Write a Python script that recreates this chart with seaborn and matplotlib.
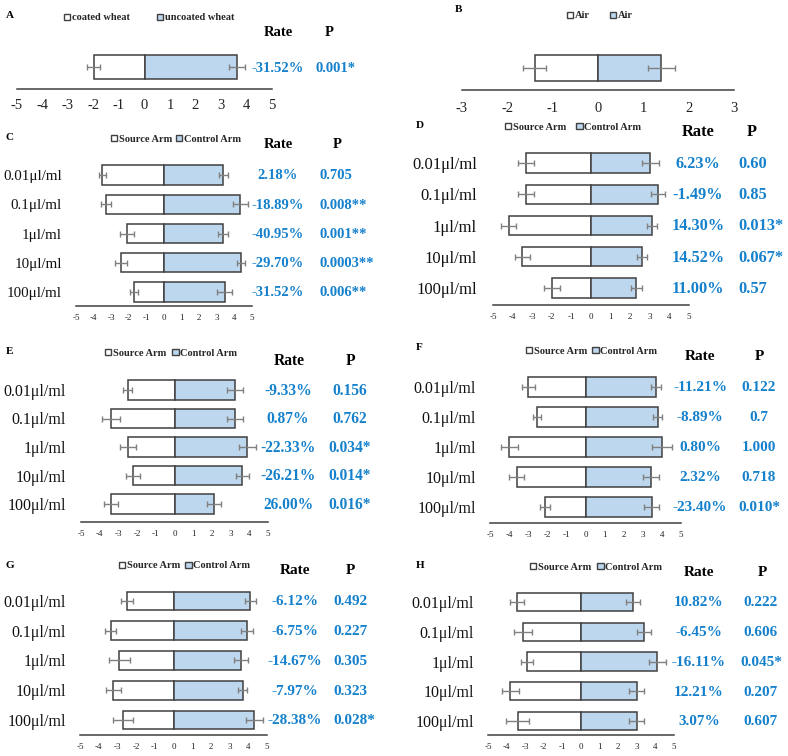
import matplotlib
matplotlib.use("Agg")
import matplotlib.pyplot as plt
import matplotlib.transforms as mtransforms
from matplotlib.patches import Patch
import seaborn as sns
import pandas as pd

sns.set_theme(style="white")
plt.rcParams["font.family"] = ["Liberation Serif", "DejaVu Serif"]
plt.rcParams["axes.unicode_minus"] = False

W, H = 788, 756
BLUE_FILL = "#bdd7ee"
EDGE = "#404040"
ERR = "#808080"
TXT_BLUE = "#1581cc"

doses = ["0.01μl/ml", "0.1μl/ml", "1μl/ml", "10μl/ml", "100μl/ml"]

# panel A: coated vs uncoated wheat
a_cats = ["wheat"]
a_source = [-2.0]
a_source_err = [0.26]
a_control = [3.62]
a_control_err = [0.31]
a_rate = ["-31.52%"]
a_p = ["0.001*"]

# panel B: air vs air
b_cats = ["air"]
b_source = [-1.4]
b_source_err = [0.26]
b_control = [1.4]
b_control_err = [0.3]

# panels C-H: source arm (negative) vs control arm
c_source = [-3.5, -3.3, -2.1, -2.45, -1.7]
c_source_err = [0.2, 0.28, 0.4, 0.35, 0.25]
c_control = [3.38, 4.33, 3.33, 4.37, 3.44]
c_control_err = [0.28, 0.42, 0.28, 0.25, 0.45]
c_rate = ["2.18%", "-18.89%", "-40.95%", "-29.70%", "-31.52%"]
c_p = ["0.705", "0.008**", "0.001**", "0.0003**", "0.006**"]

d_source = [-3.3, -3.3, -4.2, -3.5, -2.0]
d_source_err = [0.4, 0.4, 0.37, 0.38, 0.42]
d_control = [3.03, 3.42, 3.13, 2.61, 2.32]
d_control_err = [0.42, 0.38, 0.25, 0.27, 0.3]
d_rate = ["6.23%", "-1.49%", "14.30%", "14.52%", "11.00%"]
d_p = ["0.60", "0.85", "0.013*", "0.067*", "0.57"]

e_source = [-2.5, -3.4, -2.5, -2.23, -3.4]
e_source_err = [0.24, 0.5, 0.44, 0.39, 0.36]
e_control = [3.22, 3.22, 3.9, 3.63, 2.1]
e_control_err = [0.43, 0.43, 0.44, 0.36, 0.36]
e_rate = ["-9.33%", "0.87%", "-22.33%", "-26.21%", "26.00%"]
e_p = ["0.156", "0.762", "0.034*", "0.014*", "0.016*"]

f_source = [-3.0, -2.55, -4.0, -3.6, -2.1]
f_source_err = [0.35, 0.2, 0.44, 0.38, 0.26]
f_control = [3.69, 3.78, 4.0, 3.43, 3.46]
f_control_err = [0.25, 0.23, 0.52, 0.44, 0.39]
f_rate = ["-11.21%", "-8.89%", "0.80%", "2.32%", "-23.40%"]
f_p = ["0.122", "0.7", "1.000", "0.718", "0.010*"]

g_source = [-2.5, -3.36, -2.9, -3.21, -2.68]
g_source_err = [0.32, 0.3, 0.57, 0.39, 0.54]
g_control = [4.1, 3.93, 3.6, 3.7, 4.32]
g_control_err = [0.3, 0.31, 0.37, 0.25, 0.45]
g_rate = ["-6.12%", "-6.75%", "-14.67%", "-7.97%", "-28.38%"]
g_p = ["0.492", "0.227", "0.305", "0.323", "0.028*"]

h_source = [-3.44, -3.12, -2.9, -3.8, -3.4]
h_source_err = [0.39, 0.47, 0.34, 0.45, 0.62]
h_control = [2.79, 3.38, 4.1, 2.99, 2.99]
h_control_err = [0.39, 0.36, 0.45, 0.42, 0.42]
h_rate = ["10.82%", "-6.45%", "-16.11%", "12.21%", "3.07%"]
h_p = ["0.222", "0.606", "0.045*", "0.207", "0.607"]

fig = plt.figure(figsize=(W / 100, H / 100), dpi=100)


def fy(y):
    return 1 - y / H


def draw_panel(lay, cats, src, src_err, ctl, ctl_err, rate=None, pval=None):
    n = len(cats)
    x0, x1, axis_y = lay["x0"], lay["x1"], lay["axis_y"]
    rows = lay["rows"]
    sp = lay.get("sp") or (rows[-1] - rows[0]) / (n - 1)
    top = rows[0] - 0.7 * sp
    ax = fig.add_axes([x0 / W, fy(axis_y), (x1 - x0) / W, (axis_y - top) / H])

    df = pd.DataFrame({"cat": cats, "src": src, "ctl": ctl})
    sns.barplot(data=df, x="src", y="cat", orient="h", color="white", saturation=1,
                edgecolor=EDGE, linewidth=1.1, width=lay["bw"], ax=ax)
    sns.barplot(data=df, x="ctl", y="cat", orient="h", color=BLUE_FILL, saturation=1,
                edgecolor=EDGE, linewidth=1.1, width=lay["bw"], ax=ax)
    pos = list(range(n))
    ax.errorbar(src, pos, xerr=src_err, fmt="none", ecolor=ERR, elinewidth=1,
                capsize=2.5, capthick=1)
    ax.errorbar(ctl, pos, xerr=ctl_err, fmt="none", ecolor=ERR, elinewidth=1,
                capsize=2.5, capthick=1)

    lim = lay["lim"]
    ax.set_xlim(-lim, lim)
    ax.set_xticks(range(-lim, lim + 1))
    ax.set_ylim(n - 1 + (axis_y - rows[-1]) / sp, -0.7)
    ax.set_xlabel("")
    ax.set_ylabel("")
    for s in ["top", "right", "left"]:
        ax.spines[s].set_visible(False)
    ax.spines["bottom"].set_color(EDGE)
    ax.spines["bottom"].set_linewidth(1.1)
    ax.tick_params(axis="x", direction="in", length=4, width=1, color=EDGE,
                   labelsize=lay["tick_fs"], pad=lay["tick_pad"], colors="#222222")
    if lay.get("label_x") is not None:
        pad_pt = (x0 - lay["label_x"]) * 0.72
        ax.tick_params(axis="y", length=0, labelsize=lay["cat_fs"], pad=pad_pt,
                       colors="#111111")
    else:
        ax.set_yticks([])
    ax.grid(False)

    trans = mtransforms.blended_transform_factory(fig.transFigure, ax.transData)
    if rate is not None:
        for i in range(n):
            ax.text(lay["rate_x"] / W, i + 0.03, rate[i], transform=trans, ha="center",
                    va="center", fontsize=lay["val_fs"], fontweight="bold", color=TXT_BLUE)
            ax.text(lay["p_x"] / W, i + 0.03, pval[i], transform=trans, ha=lay["p_ha"],
                    va="center", fontsize=lay["val_fs"], fontweight="bold", color=TXT_BLUE)
        fig.text(lay["rate_hx"] / W, fy(lay["head_y"]), "Rate", ha="center", va="center",
                 fontsize=lay["val_fs"], fontweight="bold", color="black")
        fig.text(lay["p_hx"] / W, fy(lay["head_y"]), "P", ha="center", va="center",
                 fontsize=lay["val_fs"], fontweight="bold", color="black")

    fig.text(lay["tag"][0] / W, fy(lay["tag"][1]), lay["name"], ha="left", va="center",
             fontsize=8, fontweight="bold", color="black")

    handles = [Patch(facecolor="white", edgecolor=EDGE, linewidth=1),
               Patch(facecolor=BLUE_FILL, edgecolor=EDGE, linewidth=1)]
    ax.legend(handles, lay["legend"], ncol=2, frameon=False, loc="center left",
              bbox_to_anchor=(lay["leg_x"] / W, fy(lay["leg_y"])),
              bbox_transform=fig.transFigure, borderaxespad=0, borderpad=0,
              handlelength=0.6, handleheight=0.6, handletextpad=0.15,
              columnspacing=lay["colsp"], prop={"weight": "bold", "size": 7.5})
    return ax


arm_labels = ["Source Arm", "Control Arm"]

layouts = {
    "A": dict(name="A", x0=17, x1=272, axis_y=89, rows=[67], sp=40, bw=0.6, lim=5,
              tick_fs=10.5, tick_pad=7.5, label_x=None, val_fs=10.5,
              rate_x=278, p_x=315, p_ha="left", rate_hx=278, p_hx=329, head_y=32,
              tag=(6, 15), legend=["coated wheat", "uncoated wheat"], leg_x=64,
              leg_y=18, colsp=2.6),
    "B": dict(name="B", x0=462, x1=734, axis_y=90, rows=[68], sp=43, bw=0.6, lim=3,
              tick_fs=10.5, tick_pad=8.5, label_x=None, val_fs=10.5,
              tag=(455, 10), legend=["Air", "Air"], leg_x=567, leg_y=16, colsp=1.9),
    "C": dict(name="C", x0=76, x1=252, axis_y=306, rows=[175, 204, 233, 262, 292],
              bw=0.65, lim=5, tick_fs=6.5, tick_pad=5.5, label_x=62, cat_fs=10.8,
              val_fs=10.5, rate_x=278, p_x=319, p_ha="left", rate_hx=278, p_hx=337,
              head_y=144, tag=(6, 137), legend=arm_labels, leg_x=111, leg_y=139,
              colsp=0.4),
    "D": dict(name="D", x0=493, x1=689, axis_y=305, rows=[163, 196, 227, 258, 288],
              bw=0.62, lim=5, tick_fs=6.5, tick_pad=5.5, label_x=477, cat_fs=12,
              val_fs=11.8, rate_x=698, p_x=738, p_ha="left", rate_hx=698, p_hx=752,
              head_y=132, tag=(416, 126), legend=arm_labels, leg_x=505, leg_y=127,
              colsp=1.0),
    "E": dict(name="E", x0=81, x1=268, axis_y=522, rows=[390, 418, 447, 476, 504],
              bw=0.68, lim=5, tick_fs=6.5, tick_pad=5.5, label_x=66, cat_fs=11.5,
              val_fs=11.2, rate_x=288, p_x=350, p_ha="center", rate_hx=289, p_hx=350,
              head_y=361, tag=(6, 351), legend=arm_labels, leg_x=105, leg_y=353,
              colsp=0.6),
    "F": dict(name="F", x0=490, x1=681, axis_y=523, rows=[387, 418, 447, 477, 507],
              bw=0.66, lim=5, tick_fs=6.5, tick_pad=5.5, label_x=476, cat_fs=11.5,
              val_fs=11, rate_x=700, p_x=759, p_ha="center", rate_hx=700, p_hx=759,
              head_y=356, tag=(416, 347), legend=arm_labels, leg_x=526, leg_y=351,
              colsp=0.5),
    "G": dict(name="G", x0=80, x1=267, axis_y=735, rows=[601, 631, 660, 690, 720],
              bw=0.63, lim=5, tick_fs=6.5, tick_pad=5.5, label_x=66, cat_fs=11.5,
              val_fs=11, rate_x=295, p_x=333, p_ha="left", rate_hx=295, p_hx=350,
              head_y=571, tag=(6, 565), legend=arm_labels, leg_x=119, leg_y=566,
              colsp=0.5),
    "H": dict(name="H", x0=488, x1=674, axis_y=735, rows=[602, 632, 662, 691, 721],
              bw=0.62, lim=5, tick_fs=6.5, tick_pad=5.5, label_x=474, cat_fs=11.5,
              val_fs=11, rate_x=699, p_x=761, p_ha="center", rate_hx=699, p_hx=762,
              head_y=572, tag=(416, 565), legend=arm_labels, leg_x=530, leg_y=567,
              colsp=0.6),
}

draw_panel(layouts["A"], a_cats, a_source, a_source_err, a_control, a_control_err,
           a_rate, a_p)
draw_panel(layouts["B"], b_cats, b_source, b_source_err, b_control, b_control_err)
draw_panel(layouts["C"], doses, c_source, c_source_err, c_control, c_control_err,
           c_rate, c_p)
draw_panel(layouts["D"], doses, d_source, d_source_err, d_control, d_control_err,
           d_rate, d_p)
draw_panel(layouts["E"], doses, e_source, e_source_err, e_control, e_control_err,
           e_rate, e_p)
draw_panel(layouts["F"], doses, f_source, f_source_err, f_control, f_control_err,
           f_rate, f_p)
draw_panel(layouts["G"], doses, g_source, g_source_err, g_control, g_control_err,
           g_rate, g_p)
draw_panel(layouts["H"], doses, h_source, h_source_err, h_control, h_control_err,
           h_rate, h_p)

fig.savefig("out.png", dpi=100, facecolor="white")
